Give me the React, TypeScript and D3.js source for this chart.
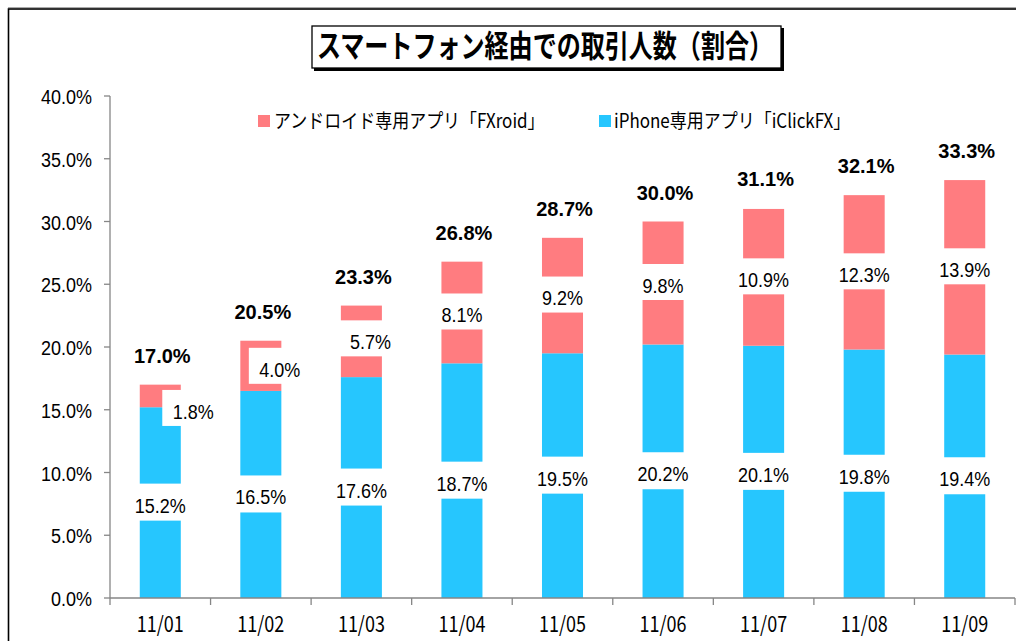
import React from "react";
import * as d3 from "d3";

const categories = ["11/01", "11/02", "11/03", "11/04", "11/05", "11/06", "11/07", "11/08", "11/09"];
const iphone = [15.2, 16.5, 17.6, 18.7, 19.5, 20.2, 20.1, 19.8, 19.4];
const android = [1.8, 4.0, 5.7, 8.1, 9.2, 9.8, 10.9, 12.3, 13.9];
const totals = [17.0, 20.5, 23.3, 26.8, 28.7, 30.0, 31.1, 32.1, 33.3];
const yTicks = [0, 5, 10, 15, 20, 25, 30, 35, 40];
const seriesNames = ["アンドロイド専用アプリ「FXroid」", "iPhone専用アプリ「iClickFX」"];
const title = "スマートフォン経由での取引人数（割合）";
// manual label nudges (px) for the android labels, as placed in the original
const androidNudge: [number, number][] = [[33, 13], [19, 1], [9, -2], [0, 0], [0, 0], [0, 0], [0, 0], [0, 0], [0, 0]];

const PINK = "#FF7C80";
const CYAN = "#26C6FE";
const AXIS = "#868686";
const NUM_FONT = "'Liberation Sans', Arial, sans-serif";
const JP_FONT = "'Noto Sans CJK JP', sans-serif";

function SText(props: {
  x: number; y: number; size: number; sy?: number; anchor?: string; weight?: string | number;
  family?: string; fill?: string; children: React.ReactNode; textLength?: number;
}) {
  const { x, y, size, sy = 1, anchor = "middle", weight = "normal", family = NUM_FONT, fill = "#000", textLength } = props;
  return (
    <text
      transform={`translate(${x},${y}) scale(1,${sy})`}
      fontSize={size}
      fontFamily={family}
      fontWeight={weight}
      textAnchor={anchor}
      fill={fill}
      dy="0.36em"
      textLength={textLength}
      lengthAdjust={textLength ? "spacingAndGlyphs" : undefined}
    >
      {props.children}
    </text>
  );
}

export default function App() {
  const W = 1016, H = 641;
  const x = d3.scaleBand<string>().domain(categories).range([110, 1015]).paddingInner(0.592).paddingOuter(0.296);
  const y = d3.scaleLinear().domain([0, 40]).range([598, 96]);
  const bw = x.bandwidth();
  const step = x.step();
  const fmt = (v: number) => d3.format(".1f")(v) + "%";
  const labelSize = 18;
  const labelSy = 1.15;

  return (
    <svg width={W} height={H} style={{ position: "absolute", left: 0, top: 0, background: "#fff" }}>
      <rect x={0} y={0} width={W} height={H} fill="#fff" />
      {/* outer chart border */}
      <line x1={8} x2={W} y1={7.5} y2={7.5} stroke="#aaa" strokeWidth={1} />
      <rect x={8.5} y={9} width={W + 50} height={H + 50} fill="none" stroke="#000" strokeWidth={1.6} />

      {/* title */}
      <rect x={314} y={28} width={470} height={43} fill="#000" />
      <rect x={312} y={26} width={469} height={42} fill="#fff" stroke="#000" strokeWidth={1.3} />
      <SText x={545} y={46} size={26} sy={1.2} weight="bold" family={JP_FONT} textLength={456}>{title}</SText>

      {/* legend */}
      <rect x={258} y={115} width={12} height={12} fill={PINK} />
      <SText x={274} y={121} size={17} sy={1.15} anchor="start" family={JP_FONT}>{seriesNames[0]}</SText>
      <rect x={599} y={115} width={12} height={12} fill={CYAN} />
      <SText x={614} y={121} size={17} sy={1.15} anchor="start" family={JP_FONT}>{seriesNames[1]}</SText>

      {/* bars */}
      {categories.map((c, i) => {
        const x0 = x(c)!;
        return (
          <g key={c}>
            <rect x={x0} y={y(iphone[i])} width={bw} height={y(0) - y(iphone[i])} fill={CYAN} />
            <rect x={x0} y={y(iphone[i] + android[i])} width={bw} height={y(iphone[i]) - y(iphone[i] + android[i])} fill={PINK} />
          </g>
        );
      })}

      {/* iPhone labels */}
      {categories.map((c, i) => {
        const cx = x(c)! + bw / 2;
        const cy = y(iphone[i] / 2);
        return (
          <g key={"il" + c}>
            <rect x={cx - 38} y={cy - 1 - 18} width={76} height={37} fill="#fff" />
            <SText x={cx} y={cy + 2.5} size={labelSize} sy={labelSy}>{fmt(iphone[i])}</SText>
          </g>
        );
      })}

      {/* android labels */}
      {categories.map((c, i) => {
        const cx = x(c)! + bw / 2 + androidNudge[i][0];
        const cy = y(iphone[i] + android[i] / 2) + androidNudge[i][1];
        return (
          <g key={"al" + c}>
            <rect x={cx - 31} y={cy - 1 - 18} width={62} height={36} fill="#fff" />
            <SText x={cx} y={cy + 2.5} size={labelSize} sy={labelSy}>{fmt(android[i])}</SText>
          </g>
        );
      })}

      {/* totals */}
      {categories.map((c, i) => (
        <SText key={"t" + c} x={x(c)! + bw / 2 + 2} y={y(totals[i]) - 29} size={20} weight="bold">{fmt(totals[i])}</SText>
      ))}

      {/* y axis */}
      <line x1={110} x2={110} y1={y(40)} y2={y(0)} stroke={AXIS} strokeWidth={1.3} />
      {yTicks.map((t) => (
        <g key={"yt" + t}>
          <line x1={104} x2={110} y1={y(t)} y2={y(t)} stroke={AXIS} strokeWidth={1.3} />
          <SText x={92} y={y(t) + 1} size={18} sy={1.1} anchor="end">{fmt(t)}</SText>
        </g>
      ))}

      {/* x axis */}
      <line x1={110} x2={1015} y1={y(0)} y2={y(0)} stroke={AXIS} strokeWidth={1.3} />
      {d3.range(categories.length + 1).map((k) => {
        const tx = 110 + k * step;
        return <line key={"xt" + k} x1={tx} x2={tx} y1={y(0)} y2={y(0) + 7} stroke={AXIS} strokeWidth={1.3} />;
      })}
      {categories.map((c) => (
        <SText key={"xl" + c} x={x(c)! + bw / 2} y={624} size={18} sy={1.2} family={JP_FONT}>{c}</SText>
      ))}
    </svg>
  );
}
